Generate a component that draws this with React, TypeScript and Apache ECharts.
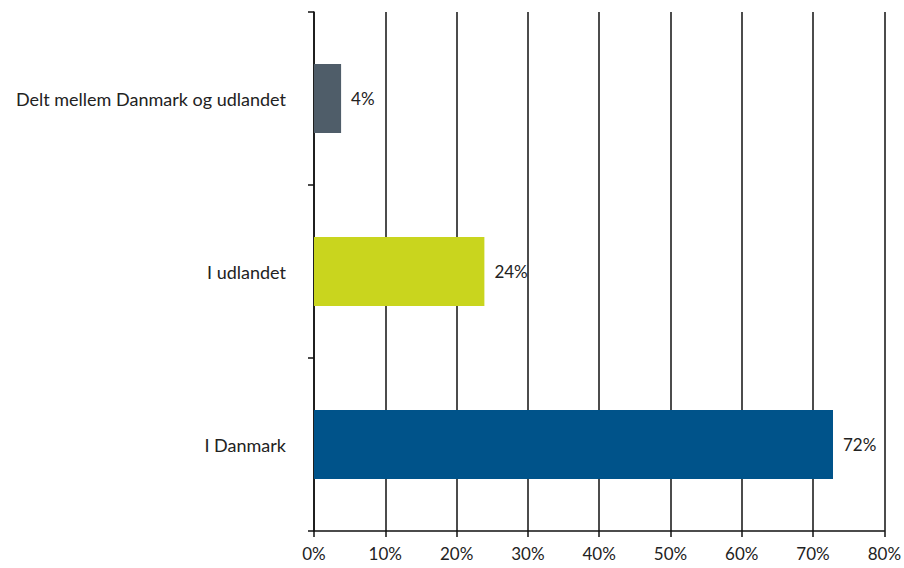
import React, { useEffect, useRef } from "react";
import * as echarts from "echarts";

const categories = ["I Danmark", "I udlandet", "Delt mellem Danmark og udlandet"];
const values = [72.8, 23.9, 3.8];
const valueLabels = ["72%", "24%", "4%"];
const barColors = ["#00538A", "#C9D51E", "#4F5D69"];
const xTicks = [0, 10, 20, 30, 40, 50, 60, 70, 80];

export default function App() {
  const ref = useRef<HTMLDivElement>(null);
  useEffect(() => {
    if (!ref.current) return;
    const chart = echarts.init(ref.current, undefined, { renderer: "svg" });
    const font = "Lato, 'Open Sans', sans-serif";
    chart.setOption({
      animation: false,
      grid: { left: 314, right: 13, top: 12, bottom: 37, containLabel: false },
      xAxis: {
        type: "value",
        min: xTicks[0],
        max: xTicks[xTicks.length - 1],
        interval: 10,
        axisLine: { show: true, lineStyle: { color: "#111", width: 1.5 } },
        axisTick: { show: true, length: 6, lineStyle: { color: "#111", width: 1.5 } },
        splitLine: { show: true, lineStyle: { color: "#111", width: 1.5 } },
        axisLabel: {
          formatter: (v: number) => v + "%",
          color: "#222",
          fontSize: 17,
          fontFamily: font,
          margin: 14,
        },
      },
      yAxis: {
        type: "category",
        data: categories,
        axisLine: { show: true, lineStyle: { color: "#111", width: 1.5 } },
        axisTick: { show: true, length: 6, lineStyle: { color: "#111", width: 1.5 } },
        axisLabel: {
          color: "#222",
          fontSize: 18,
          fontFamily: font,
          margin: 28,
        },
      },
      series: [
        {
          type: "bar",
          barWidth: "40%",
          data: values.map((v, i) => ({ value: v, itemStyle: { color: barColors[i] } })),
          label: {
            show: true,
            position: "right",
            distance: 10,
            color: "#222",
            fontSize: 17,
            fontFamily: font,
            formatter: (p: any) => valueLabels[p.dataIndex],
          },
        },
      ],
    });
    return () => chart.dispose();
  }, []);
  return <div ref={ref} style={{ width: 904, height: 568, position: "absolute", left: 0, top: 0 }} />;
}
